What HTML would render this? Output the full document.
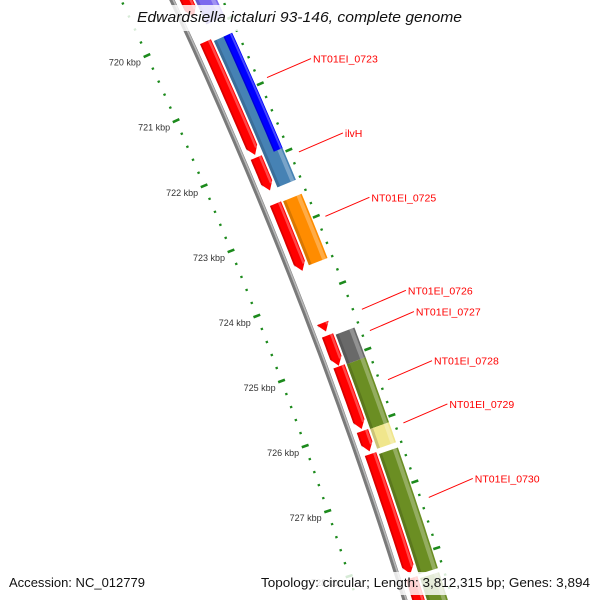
<!DOCTYPE html>
<html><head><meta charset="utf-8"><style>
html,body{margin:0;padding:0;background:#fff;overflow:hidden;width:600px;height:600px}
svg{display:block;overflow:hidden}
text{font-family:"Liberation Sans",sans-serif}
</style></head><body>
<svg id="map" width="600" height="600" viewBox="0 0 600 600" xmlns="http://www.w3.org/2000/svg">
<defs><clipPath id="frame"><rect x="0" y="0" width="600" height="600"/></clipPath></defs>
<g clip-path="url(#frame)">
<g id="rulers"></g>
<g id="backbone"></g>
<g id="features"></g>
<g id="labels"></g>
</g>
<rect x="118" y="5" width="354" height="26" fill="#fff" opacity="0.82"/>
<text x="137" y="22" font-size="15" font-style="italic" fill="#111" textLength="325" lengthAdjust="spacingAndGlyphs">Edwardsiella ictaluri 93-146, complete genome</text>
<rect x="4" y="572" width="146" height="23" fill="#fff" opacity="0.85"/>
<text x="9" y="587" font-size="13" fill="#111" textLength="136" lengthAdjust="spacingAndGlyphs">Accession: NC_012779</text>
<rect x="256" y="572" width="340" height="23" fill="#fff" opacity="0.82"/>
<text x="261" y="587" font-size="13" fill="#111" textLength="329" lengthAdjust="spacingAndGlyphs">Topology: circular; Length: 3,812,315 bp; Genes: 3,894</text>
</svg>
<script>
// ---- data ----
const featStart = [719.2, 719.3, 720.16, 721.92, 720.2, 720.2, 722.63, 722.62, 724.43, 724.62, 725.09, 726.07, 726.42, 728.3, 724.65, 725.1, 726.08, 726.46, 728.34];
const featEnd   = [719.78, 719.95, 721.88, 722.42, 722.42, 721.94, 723.6, 723.64, 724.56, 725.08, 726.04, 726.38, 728.24, 729.4, 725.1, 726.08, 726.38, 728.28, 729.4];
const featTrack = ['red','t2','red','red','t2','t2b','t2','red','red','red','red','red','red','red','t2','t2','t2','t2','t2'];
const featColor = ['#ff0000','#7b68ee','#ff0000','#ff0000','#4682b4','#0000ff','#ff8c00','#ff0000','#ff0000','#ff0000','#ff0000','#ff0000','#ff0000','#ff0000','#696969','#6b8e23','#f0e68c','#6b8e23','#6b8e23'];
const featArrow = [1,0,1,1,0,0,0,1,1,1,1,1,1,1,0,0,0,0,0];
const labelNames = ['NT01EI_0723','ilvH','NT01EI_0725','NT01EI_0726','NT01EI_0727','NT01EI_0728','NT01EI_0729','NT01EI_0730'];
const labelPos = [721.01, 722.13, 723.10, 724.50, 724.82, 725.56, 726.21, 727.33];
const tickLabels = ['720 kbp','721 kbp','722 kbp','723 kbp','724 kbp','725 kbp','726 kbp','727 kbp','728 kbp'];
const tickLabelKbp = [720,721,722,723,724,725,726,727,728];

// ---- geometry ----
const NS='http://www.w3.org/2000/svg';
function sOf(k){return 36.5+65.7*(k-720);}
function B(s){return [172+0.465*s-0.000128*s*s, s];}
function N(s){const dx=0.465-0.000256*s;const L=Math.hypot(1,dx);return [1/L,-dx/L];}
function P(k,d){const s=sOf(k);const b=B(s),n=N(s);return [b[0]+d*n[0],b[1]+d*n[1]];}
function mk(tag,attrs,parent){const e=document.createElementNS(NS,tag);for(const a in attrs)e.setAttribute(a,attrs[a]);parent.appendChild(e);return e;}
function poly(k0,k1,d0,d1,arrow){
  const pts=[];const steps=12;const tipLen=8/65.7;
  const kb=arrow?Math.max(k0,k1-tipLen):k1;
  for(let i=0;i<=steps;i++){pts.push(P(k0+(kb-k0)*i/steps,d0));}
  if(arrow)pts.push(P(k1,(d0+d1)/2));
  for(let i=steps;i>=0;i--){pts.push(P(k0+(kb-k0)*i/steps,d1));}
  return pts.map(p=>p[0].toFixed(1)+','+p[1].toFixed(1)).join(' ');
}

// rulers
const gR=document.getElementById('rulers');
const rulerD=[-46,46];
for(let r=0;r<2;r++){
  for(let i=0;i<=50;i++){
    const k=719.0+i*0.2;
    const major=Math.abs(k-Math.round(k))<1e-6;
    const h=major?3.6:1.2;
    const a=P(k,rulerD[r]-h),b=P(k,rulerD[r]+h);
    if(Math.min(a[1],b[1])>600)continue;
    const t=mk('line',{x1:a[0],y1:a[1],x2:b[0],y2:b[1],stroke:'#1c8a1c','stroke-width':major?2.6:2.2},gR);
    
    
  }
}
for(let i=0;i<tickLabels.length;i++){
  const p=P(tickLabelKbp[i],-46);
  const t=mk('text',{x:(p[0]-6).toFixed(1),y:(p[1]+10).toFixed(1),'font-size':'9','fill':'#333','text-anchor':'end'},gR);
  t.textContent=tickLabels[i];
  
  
}

// backbone
const gB=document.getElementById('backbone');
const bb=[];for(let k=719.2;k<=729.2;k+=0.2){bb.push(P(k,0));}
const bbs=bb.map(p=>p[0].toFixed(1)+','+p[1].toFixed(1)).join(' ');
const bl=mk('polyline',{points:bbs,fill:'none',stroke:'#7a7a7a','stroke-width':5},gB);


const bl2=mk('polyline',{points:bb.map(p=>(p[0]+1.3).toFixed(1)+','+p[1].toFixed(1)).join(' '),fill:'none',stroke:'#b8b8b8','stroke-width':1.6},gB);



// features
const gF=document.getElementById('features');
const trackD={red:[7,19],t2:[21,41],t2b:[31.5,41]};
for(let i=0;i<featStart.length;i++){
  const d=trackD[featTrack[i]];
  const e=mk('polygon',{points:poly(featStart[i],featEnd[i],d[0],d[1],featArrow[i]),fill:featColor[i]},gF);
  
  
  const w=d[1]-d[0];
  const hl=mk('polygon',{points:poly(featStart[i],featEnd[i]-(featArrow[i]?6/65.7:0),d[1]-w*0.28,d[1]-w*0.08,0),fill:'#fff',opacity:0.28},gF);
  
  
  const sh=mk('polygon',{points:poly(featStart[i],featEnd[i]-(featArrow[i]?6/65.7:0),d[0],d[0]+w*0.15,0),fill:'#000',opacity:0.15},gF);
  
  
}

// labels
const gL=document.getElementById('labels');
for(let i=0;i<labelNames.length;i++){
  const a=P(labelPos[i],53);
  a[1]-=4;
  const b=[a[0]+44,a[1]-19];
  const ln=mk('line',{x1:a[0].toFixed(1),y1:a[1].toFixed(1),x2:b[0].toFixed(1),y2:b[1].toFixed(1),stroke:'#ff0000','stroke-width':1},gL);
  
  
  const t=mk('text',{x:(b[0]+2).toFixed(1),y:(b[1]+4).toFixed(1),'font-size':'10.5',fill:'#ff0000'},gL);
  t.textContent=labelNames[i];
  
  
}
</script>
</body></html>
